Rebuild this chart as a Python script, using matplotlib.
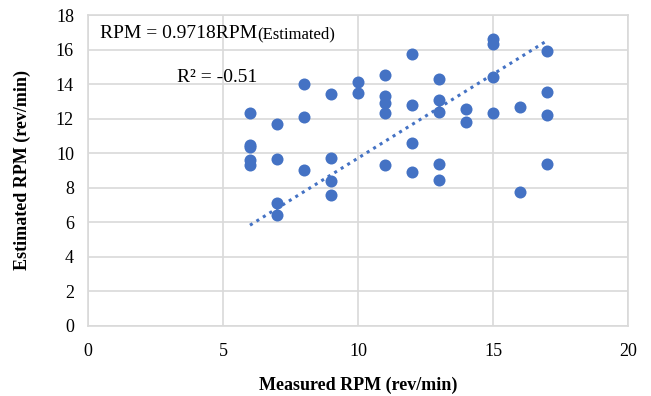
import matplotlib.pyplot as plt
import numpy as np

plt.rcParams['font.family'] = ['Liberation Serif', 'DejaVu Serif']

# measured rpm and estimated rpm pairs
measured = [6, 6, 6, 6, 6,
            7, 7, 7, 7,
            8, 8, 8,
            9, 9, 9, 9,
            10, 10,
            11, 11, 11, 11, 11,
            12, 12, 12, 12,
            13, 13, 13, 13, 13,
            14, 14,
            15, 15, 15, 15,
            16, 16,
            17, 17, 17, 17]
estimated = [12.3, 10.5, 10.35, 9.6, 9.3,
             11.7, 9.65, 7.1, 6.45,
             14.0, 12.1, 9.0,
             13.4, 9.7, 8.4, 7.6,
             14.1, 13.5,
             14.55, 13.3, 12.9, 12.3, 9.3,
             15.75, 12.8, 10.6, 8.9,
             14.3, 13.1, 12.4, 9.4, 8.45,
             12.55, 11.8,
             16.6, 16.3, 14.4, 12.3,
             12.65, 7.75,
             15.9, 13.55, 12.2, 9.4]
slope = 0.9718
r2_text = "R\u00b2 = -0.51"

blue = '#4472C4'
grid_c = '#d9d9d9'

fig = plt.figure(figsize=(6.51, 3.96), dpi=100)
ax = fig.add_axes([0.135, 0.177, 0.83, 0.785])

ax.scatter(measured, estimated, s=75, color=blue, zorder=3, linewidths=0)

# linear trend through origin
tx = np.array([min(measured), max(measured)])
ax.plot(tx, slope * tx, color=blue, linestyle=(0, (1, 1.5)), linewidth=2.2, zorder=2)

ax.set_xlim(0, 20)
ax.set_ylim(0, 18)
ax.set_xticks([0, 5, 10, 15, 20])
ax.set_yticks(range(0, 19, 2))
ax.grid(True, color=grid_c, linewidth=1.2)
ax.set_axisbelow(True)
for s in ax.spines.values():
    s.set_color(grid_c)
    s.set_linewidth(1.2)
ax.tick_params(length=0, labelsize=13)
ax.tick_params(axis='x', pad=12)
ax.tick_params(axis='y', pad=10)

ax.set_xlabel('Measured RPM (rev/min)', fontsize=13, fontweight='bold', labelpad=12)
ax.set_ylabel('Estimated RPM (rev/min)', fontsize=13, fontweight='bold', labelpad=18)

eq = ax.text(0.45, 16.95, 'RPM = 0.9718RPM', fontsize=14, va='center', ha='left')
ax.annotate('(Estimated)', xy=(1, 0.45), xycoords=eq, fontsize=12, va='center', ha='left')
ax.text(3.3, 14.4, r2_text, fontsize=14, va='center', ha='left')

fig.savefig('out.png', dpi=100)
